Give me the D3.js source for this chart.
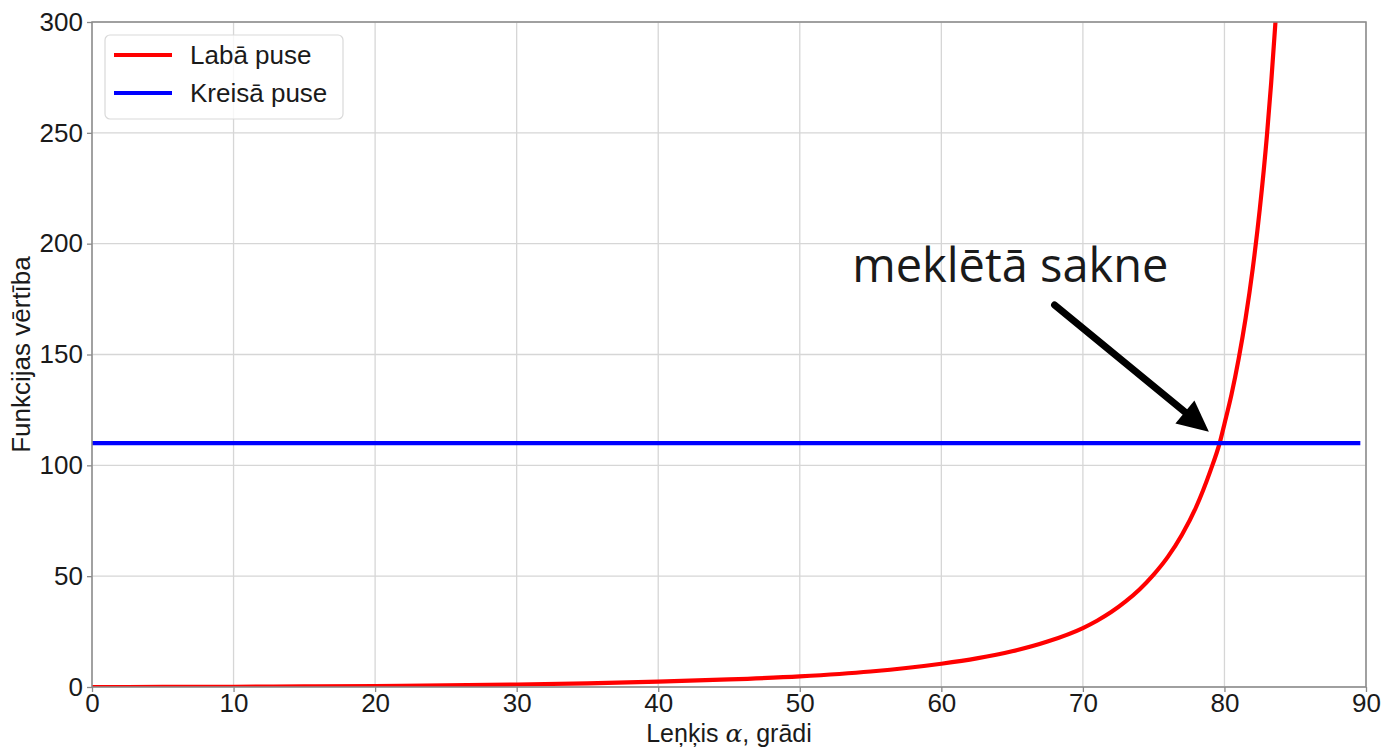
<!DOCTYPE html>
<html>
<head>
<meta charset="utf-8">
<script src="https://cdn.jsdelivr.net/npm/d3@7"></script>
<style>
  html, body { margin: 0; padding: 0; background: #ffffff; }
  svg { display: block; }
  text { font-family: "Liberation Sans", Arial, sans-serif; fill: #1a1a1a; }
</style>
</head>
<body>
<svg id="chart" width="1384" height="747"></svg>
<script>
// Angle α (degrees) and the right-hand side of the equation
const alpha = [0, 5, 10, 15, 20, 25, 30, 35, 40, 45, 50, 55, 60, 62.5, 65, 67.5, 70, 71, 72, 73, 74, 75, 76, 77, 78, 79, 79.66, 80, 80.5, 81, 81.5, 82, 82.5, 83, 83.3, 83.6, 83.8];
const rightSide = [0, 0.03, 0.1, 0.24, 0.45, 0.74, 1.13, 1.67, 2.4, 3.4, 4.8, 7.0, 10.5, 12.9, 16.1, 20.5, 26.6, 29.9, 33.8, 38.5, 44.0, 50.7, 58.7, 68.7, 81.2, 97.4, 110, 118.7, 132, 147.9, 166.5, 188.8, 215.8, 248.7, 272.5, 299.6, 320];

// Left-hand side is constant
const leftAlpha = [0, 89.6];
const leftSide = [110, 110];

// Axis ticks
const xTicks = [0, 10, 20, 30, 40, 50, 60, 70, 80, 90];
const yTicks = [0, 50, 100, 150, 200, 250, 300];

const seriesNames = ["Labā puse", "Kreisā puse"];
const seriesColors = ["#ff0000", "#0000ff"];

const xTitle = "Leņķis ";
const xTitleSym = "α";
const xTitleTail = ", grādi";
const yTitle = "Funkcijas vērtība";
const noteText = "meklētā sakne";

const margin = { left: 92, right: 18, top: 22, bottom: 60 };
const W = 1384, H = 747;
const svg = d3.select("#chart");

const x = d3.scaleLinear().domain([0, 90]).range([margin.left, W - margin.right]);
const y = d3.scaleLinear().domain([0, 300]).range([H - margin.bottom, margin.top]);

// grid
const grid = svg.append("g");
grid.selectAll("line.gx").data(xTicks).join("line")
  .attr("x1", d => x(d)).attr("x2", d => x(d))
  .attr("y1", y(0)).attr("y2", y(300))
  .attr("stroke", "#d6d6d6").attr("stroke-width", 1.3);
grid.selectAll("line.gy").data(yTicks).join("line")
  .attr("x1", x(0)).attr("x2", x(90))
  .attr("y1", d => y(d)).attr("y2", d => y(d))
  .attr("stroke", "#d6d6d6").attr("stroke-width", 1.3);

// clip to the plot area
svg.append("clipPath").attr("id", "plotClip").append("rect")
  .attr("x", x(0)).attr("y", y(300)).attr("width", x(90) - x(0)).attr("height", y(0) - y(300));

const plot = svg.append("g").attr("clip-path", "url(#plotClip)");

const line = d3.line().x(d => x(d[0])).y(d => y(d[1])).curve(d3.curveMonotoneX);

plot.append("path")
  .datum(alpha.map((a, i) => [a, rightSide[i]]))
  .attr("d", line).attr("fill", "none")
  .attr("stroke", seriesColors[0]).attr("stroke-width", 4.2).attr("stroke-linejoin", "round");

plot.append("path")
  .datum(leftAlpha.map((a, i) => [a, leftSide[i]]))
  .attr("d", line).attr("fill", "none")
  .attr("stroke", seriesColors[1]).attr("stroke-width", 4.2);

// axes
const fontSize = 26;
const xAxis = svg.append("g").attr("transform", `translate(0,${y(0)})`)
  .call(d3.axisBottom(x).tickValues(xTicks).tickSize(5).tickPadding(2).tickFormat(d3.format("d")));
const yAxis = svg.append("g").attr("transform", `translate(${x(0)},0)`)
  .call(d3.axisLeft(y).tickValues(yTicks).tickSize(5).tickPadding(4).tickFormat(d3.format("d")));
[xAxis, yAxis].forEach(a => {
  a.select(".domain").remove();
  a.selectAll(".tick line").attr("stroke", "#8a8a8a").attr("stroke-width", 1.3);
  a.selectAll(".tick text").attr("font-size", fontSize).attr("font-family", "Liberation Sans, Arial, sans-serif").attr("fill", "#1a1a1a");
});

// frame
svg.append("rect")
  .attr("x", x(0)).attr("y", y(300)).attr("width", x(90) - x(0)).attr("height", y(0) - y(300))
  .attr("fill", "none").attr("stroke", "#8a8a8a").attr("stroke-width", 1.5);

// axis titles
const xt = svg.append("text")
  .attr("x", (x(0) + x(90)) / 2).attr("y", 742)
  .attr("text-anchor", "middle").attr("font-size", 25);
xt.append("tspan").text(xTitle);
xt.append("tspan").attr("font-style", "italic").attr("font-family", "DejaVu Serif, serif").text(xTitleSym);
xt.append("tspan").text(xTitleTail);

svg.append("text")
  .attr("transform", `translate(30,${(y(0) + y(300)) / 2}) rotate(-90)`)
  .attr("text-anchor", "middle").attr("font-size", 26)
  .text(yTitle);

// legend
const lg = svg.append("g");
lg.append("rect").attr("x", 105).attr("y", 35).attr("width", 238).attr("height", 84)
  .attr("rx", 5).attr("fill", "#ffffff").attr("fill-opacity", 0.8)
  .attr("stroke", "#d9d9d9").attr("stroke-width", 1.2);
seriesNames.forEach((name, i) => {
  const yy = 55 + i * 38;
  lg.append("line").attr("x1", 114).attr("x2", 172).attr("y1", yy).attr("y2", yy)
    .attr("stroke", seriesColors[i]).attr("stroke-width", 4.2);
  lg.append("text").attr("x", 190).attr("y", yy + 9).attr("font-size", 26).text(name);
});

// annotation: label with an arrow pointing at the root
const tail = [68.0, 172.3], tip = [78.9, 115.2];
const tx = x(tail[0]), ty = y(tail[1]), hx = x(tip[0]), hy = y(tip[1]);
const ang = Math.atan2(hy - ty, hx - tx);
const headLen = 31, headHalf = 15;
const bx = hx - headLen * Math.cos(ang), by = hy - headLen * Math.sin(ang);
svg.append("line")
  .attr("x1", tx).attr("y1", ty).attr("x2", bx + 2 * Math.cos(ang)).attr("y2", by + 2 * Math.sin(ang))
  .attr("stroke", "#000").attr("stroke-width", 7).attr("stroke-linecap", "round");
svg.append("path")
  .attr("d", `M${hx},${hy} L${bx - headHalf * Math.sin(ang)},${by + headHalf * Math.cos(ang)} L${bx + headHalf * Math.sin(ang)},${by - headHalf * Math.cos(ang)} Z`)
  .attr("fill", "#000");

svg.append("text")
  .attr("x", x(53.7)).attr("y", y(182.7))
  .attr("font-size", 47).attr("fill", "#000")
  .style("font-family", "'Open Sans', sans-serif")
  .text(noteText);
</script>
</body>
</html>
